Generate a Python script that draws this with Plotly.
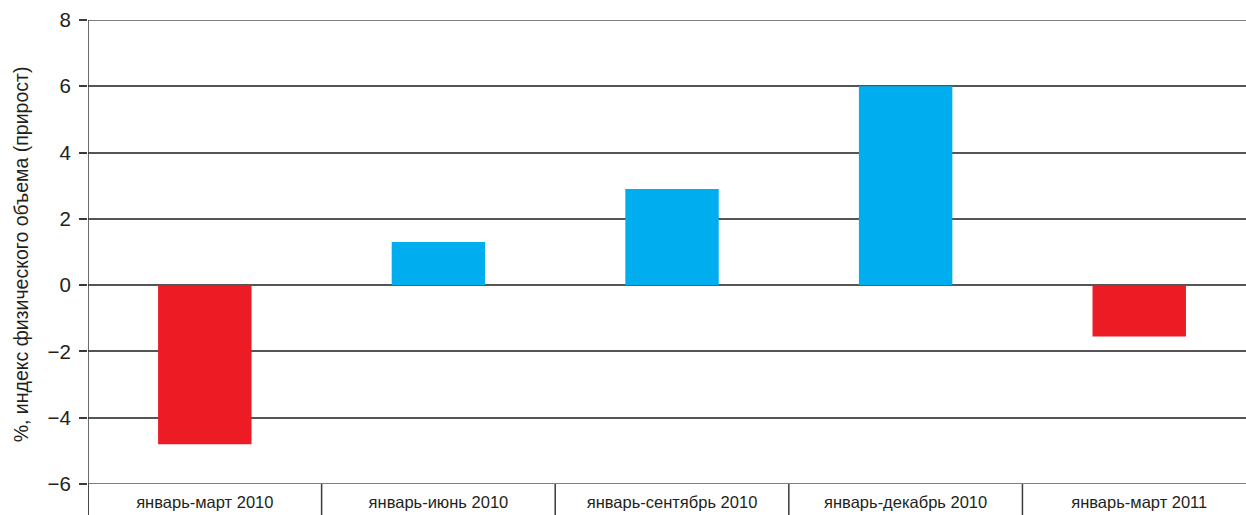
import plotly.graph_objects as go

# Physical volume index growth, cumulative periods
periods = ["январь-март 2010", "январь-июнь 2010", "январь-сентябрь 2010",
           "январь-декабрь 2010", "январь-март 2011"]
growth = [-4.8, 1.3, 2.9, 6.0, -1.55]

y_ticks = [-6, -4, -2, 0, 2, 4, 6, 8]

RED = "#ED1C24"
BLUE = "#00AEEF"
LINE = "#3a3a3a"
GRID = "#555555"

colors = [RED if v < 0 else BLUE for v in growth]
xs = list(range(len(periods)))

fig = go.Figure(go.Bar(
    x=xs, y=growth, marker_color=colors, marker_line_width=0, width=0.4,
))

W, H = 1246, 515
ML, MR, MT, MB = 88, 0, 20, 31
plot_h = H - MT - MB

shapes = []
# horizontal lines at the range edges (plotly skips gridlines there)
for yv in (y_ticks[0], y_ticks[-1]):
    shapes.append(dict(type="line", xref="paper", yref="y", x0=0, x1=1,
                       y0=yv, y1=yv, layer="below",
                       line=dict(color=GRID, width=1.5)))
# category separators below the axis, plus the left axis line
for b in [-0.5 + i for i in range(len(periods))]:
    shapes.append(dict(type="line", xref="x", yref="paper", x0=b, x1=b,
                       y0=0, y1=-MB / plot_h, line=dict(color=LINE, width=1.5)))
shapes.append(dict(type="line", xref="x", yref="paper", x0=-0.5, x1=-0.5,
                   y0=-MB / plot_h, y1=1, line=dict(color=LINE, width=1.5)))

fig.update_layout(
    width=W, height=H,
    margin=dict(l=ML, r=MR, t=MT, b=MB),
    paper_bgcolor="white", plot_bgcolor="white",
    font=dict(family="Liberation Sans, Arial, sans-serif", color="#231f20"),
    showlegend=False,
    shapes=shapes,
    xaxis=dict(
        range=[-0.5, 4.457], tickmode="array", tickvals=xs, ticktext=periods,
        showgrid=False, zeroline=False, showline=False, ticks="",
        tickfont=dict(size=16.5), ticklabelstandoff=6, fixedrange=True,
    ),
    yaxis=dict(
        range=[-6, 8], tickmode="array", tickvals=y_ticks,
        showgrid=True, gridcolor=GRID, gridwidth=1.5,
        zeroline=True, zerolinecolor=GRID, zerolinewidth=1.5,
        showline=False, ticks="outside", ticklen=8, tickwidth=1.5,
        tickcolor=LINE, tickfont=dict(size=20.5), ticklabelstandoff=4,
    ),
    annotations=[dict(
        text="%, индекс физического объема (прирост)", xref="paper", yref="paper",
        x=-(ML - 21) / (W - ML), y=0.495, xanchor="center", yanchor="middle",
        textangle=-90, showarrow=False, font=dict(size=19.5),
    )],
)

fig.write_html("out.html")
